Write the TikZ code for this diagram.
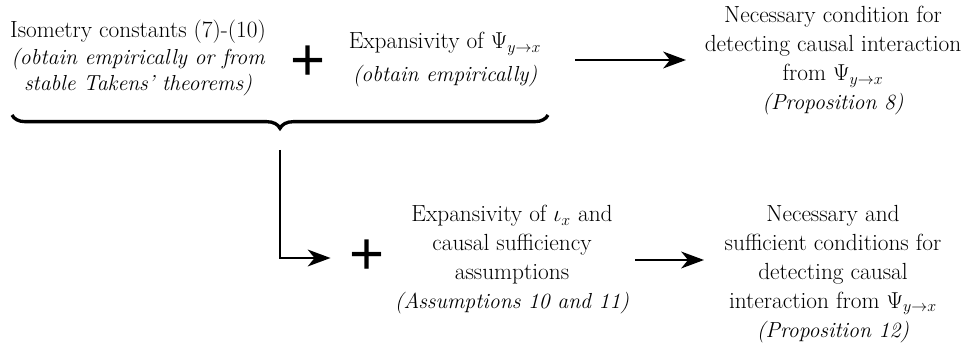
\documentclass[tikz,border=0pt]{standalone}
\usepackage{fontspec}
\newfontfamily\plusfont{Liberation Sans}
\newcommand{\itsmall}[1]{\itshape\fontsize{16.3}{#1}\selectfont\ignorespaces}
\usetikzlibrary{arrows.meta,decorations.pathreplacing}
\begin{document}
\begin{tikzpicture}[x=0.75pt,y=-0.75pt,
  txt/.style={align=center,font=\rmfamily\fontsize{17.5}{21.75}\selectfont,inner sep=0pt},
  txttight/.style={txt,font=\rmfamily\fontsize{17.5}{20}\selectfont},
  plusnode/.style={font=\plusfont\fontsize{45}{45}\selectfont,inner sep=0pt},
  conn/.style={line width=2.2pt,-{Stealth[length=17pt,width=12.5pt,inset=5pt]}},
  bracestyle/.style={line width=2.5pt,decorate,decoration={brace,mirror,amplitude=10pt}}]
\useasboundingbox (0,0) rectangle (967,356);
% nodes
\node[txttight] (n1) at (138,58) {Isometry constants (7)-(10)\\\itsmall{20pt}(obtain empirically or from\\\itsmall{20pt}stable Takens' theorems)};
\node[plusnode] (p1) at (308,63) {+};
\node[txt] (n2) at (445,60) {Expansivity of $\Psi_{y\rightarrow x}$\\[3pt]\itsmall{21.75pt}(obtain empirically)};
\node[txt] (n3) at (833,61) {Necessary condition for\\detecting causal interaction\\from $\Psi_{y\rightarrow x}$\\\itsmall{21.75pt}(Proposition 8)};
\node[plusnode] (p2) at (367,257) {+};
\node[txt] (n4) at (512,260) {Expansivity of $\iota_x$ and\\causal sufficiency\\assumptions\\\itsmall{21.75pt}(Assumptions 10 and 11)};
\node[txt] (n5) at (833,274) {Necessary and\\sufficient conditions for\\detecting causal\\interaction from $\Psi_{y\rightarrow x}$\\\itsmall{21.75pt}(Proposition 12)};
% brace
\coordinate (bl) at (12,115);
\coordinate (br) at (548,115);
\draw[bracestyle] (bl) -- (br);
\coordinate (bt) at (280,150);
% connectors
\coordinate (a1s) at (575,60);
\coordinate (a1e) at (686,60);
\draw[conn] (a1s) -- (a1e);
\draw[conn,shorten >=14pt] (bt) |- (p2.west |- 0,258);
\coordinate (a2s) at (635,260);
\coordinate (a2e) at (704,260);
\draw[conn] (a2s) -- (a2e);
\end{tikzpicture}
\end{document}
